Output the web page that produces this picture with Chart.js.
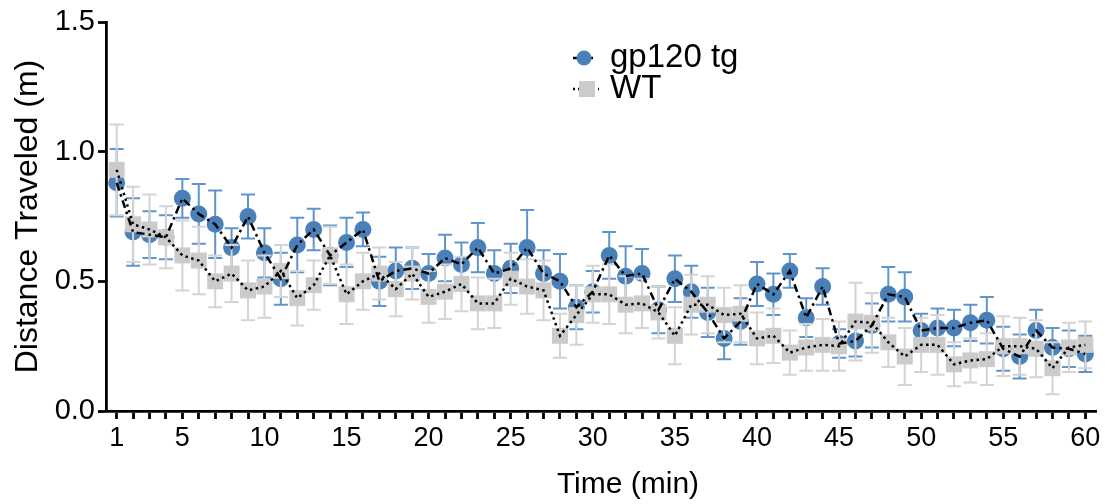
<!DOCTYPE html>
<html>
<head>
<meta charset="utf-8">
<script src="https://cdn.jsdelivr.net/npm/chart.js@4.4.1/dist/chart.umd.min.js"></script>
<style>
  body { margin: 0; background: #fff; }
  #wrap { width: 1113px; height: 504px; position: relative; }
</style>
</head>
<body>
<div id="wrap"><canvas id="chartData"></canvas></div>
<script>
    // minutes 1..60
    const minutes = [];
    for (let m = 1; m <= 60; m++) minutes.push(m);
    const labelledMinutes = [1, 5, 10, 15, 20, 25, 30, 35, 40, 45, 50, 55, 60];
    const yTicks = [0, 0.5, 1.0, 1.5];

    const seriesNames = ["gp120 tg", "WT"];

    // mean distance per minute (m)
    const gp120Mean = [
        0.88, 0.69, 0.68, 0.67, 0.82, 0.76, 0.72, 0.63, 0.75, 0.61,
        0.51, 0.64, 0.70, 0.60, 0.65, 0.70, 0.50, 0.54, 0.55, 0.53,
        0.59, 0.565, 0.63, 0.53, 0.55, 0.63, 0.53, 0.50, 0.40, 0.46,
        0.60, 0.52, 0.53, 0.39, 0.51, 0.46, 0.38, 0.28, 0.345, 0.49,
        0.45, 0.54, 0.36, 0.48, 0.26, 0.27, 0.33, 0.45, 0.44, 0.31,
        0.32, 0.32, 0.34, 0.35, 0.24, 0.21, 0.31, 0.245, 0.24, 0.22
    ];
    const gp120Err = [
        0.13, 0.13, 0.09, 0.085, 0.075, 0.115, 0.13, 0.075, 0.085, 0.095,
        0.10, 0.105, 0.08, 0.115, 0.095, 0.065, 0.095, 0.09, 0.08, 0.075,
        0.09, 0.085, 0.095, 0.09, 0.095, 0.145, 0.09, 0.105, 0.085, 0.08,
        0.09, 0.115, 0.095, 0.09, 0.09, 0.10, 0.095, 0.08, 0.09, 0.085,
        0.08, 0.065, 0.075, 0.07, 0.055, 0.06, 0.085, 0.105, 0.095, 0.065,
        0.075, 0.07, 0.07, 0.09, 0.085, 0.085, 0.08, 0.075, 0.07, 0.07
    ];
    const wtMean = [
        0.93, 0.72, 0.70, 0.67, 0.60, 0.58, 0.50, 0.53, 0.465, 0.48,
        0.54, 0.435, 0.485, 0.60, 0.45, 0.50, 0.53, 0.47, 0.53, 0.44,
        0.46, 0.49, 0.415, 0.415, 0.51, 0.48, 0.465, 0.29, 0.37, 0.45,
        0.45, 0.41, 0.415, 0.38, 0.29, 0.41, 0.41, 0.37, 0.375, 0.28,
        0.29, 0.225, 0.245, 0.255, 0.25, 0.345, 0.34, 0.265, 0.21, 0.255,
        0.255, 0.18, 0.195, 0.20, 0.25, 0.25, 0.24, 0.165, 0.245, 0.255
    ];
    const wtErr = [
        0.175, 0.145, 0.135, 0.12, 0.135, 0.13, 0.10, 0.11, 0.115, 0.12,
        0.10, 0.105, 0.095, 0.11, 0.115, 0.11, 0.10, 0.105, 0.10, 0.10,
        0.105, 0.105, 0.10, 0.095, 0.10, 0.105, 0.115, 0.085, 0.115, 0.11,
        0.115, 0.11, 0.095, 0.10, 0.11, 0.115, 0.11, 0.105, 0.11, 0.10,
        0.105, 0.085, 0.09, 0.10, 0.095, 0.15, 0.115, 0.095, 0.11, 0.105,
        0.115, 0.085, 0.085, 0.10, 0.115, 0.11, 0.11, 0.10, 0.095, 0.09
    ];

    const BLUE = "#4a80b8";
    const BLUE_ERR = "#5f95ca";
    const GREY = "#cbcbcb";
    const GREY_ERR = "#d4d4d4";
    const FONT = "'Liberation Sans', Arial, Helvetica, sans-serif";

    Chart.defaults.font.family = FONT;
    Chart.defaults.color = "#000";

    const toPoints = (vals) => minutes.map((m, i) => ({ x: m, y: vals[i] }));

    // error bars drawn right before the marker dataset they belong to
    const errorBars = {
        id: "errorBars",
        beforeDatasetDraw(chart, args) {
            const ds = chart.data.datasets[args.index];
            if (!ds.errors) return;
            const { ctx, scales: { x, y } } = chart;
            ctx.save();
            ctx.strokeStyle = ds.errorColor;
            ctx.lineWidth = 2;
            ds.data.forEach((p, i) => {
                const px = x.getPixelForValue(p.x);
                const top = y.getPixelForValue(p.y + ds.errors[i]);
                const bot = y.getPixelForValue(p.y - ds.errors[i]);
                ctx.beginPath();
                ctx.moveTo(px, top); ctx.lineTo(px, bot);
                ctx.moveTo(px - 7, top); ctx.lineTo(px + 7, top);
                ctx.moveTo(px - 7, bot); ctx.lineTo(px + 7, bot);
                ctx.stroke();
            });
            ctx.restore();
        }
    };

    // legend with the line style running through the marker, plus x title
    const extras = {
        id: "extras",
        afterDraw(chart) {
            const ctx = chart.ctx;
            ctx.save();
            ctx.strokeStyle = "#000";
            ctx.lineWidth = 2.5;

            // gp120 tg
            ctx.setLineDash([6, 3, 2, 3]);
            ctx.beginPath(); ctx.moveTo(573, 58); ctx.lineTo(595, 58); ctx.stroke();
            ctx.setLineDash([]);
            ctx.fillStyle = BLUE;
            ctx.beginPath(); ctx.arc(584, 58, 7.5, 0, Math.PI * 2); ctx.fill();

            // WT
            ctx.setLineDash([2, 3]);
            ctx.beginPath(); ctx.moveTo(573, 89); ctx.lineTo(599, 89); ctx.stroke();
            ctx.setLineDash([]);
            ctx.fillStyle = GREY;
            ctx.fillRect(579, 81, 16, 16);

            ctx.fillStyle = "#000";
            ctx.font = "33px " + FONT;
            ctx.textBaseline = "alphabetic";
            ctx.textAlign = "left";
            ctx.fillText(seriesNames[0], 610, 67);
            ctx.fillText(seriesNames[1], 610, 98);

            ctx.font = "30px " + FONT;
            ctx.textAlign = "center";
            ctx.textBaseline = "middle";
            ctx.fillText("Time (min)", 628, 485);
            ctx.restore();
        }
    };

    const ctx = document.getElementById("chartData");

    new Chart(ctx, {
        type: "scatter",
        data: {
            datasets: [{
                    label: seriesNames[0],
                    data: toPoints(gp120Mean),
                    errors: gp120Err,
                    errorColor: BLUE_ERR,
                    showLine: false,
                    pointStyle: "circle",
                    pointRadius: 8.5,
                    pointBackgroundColor: BLUE,
                    pointBorderWidth: 0,
                    order: 4,
                },
                {
                    label: seriesNames[1],
                    data: toPoints(wtMean),
                    errors: wtErr,
                    errorColor: GREY_ERR,
                    showLine: false,
                    pointStyle: "rect",
                    pointRadius: 11.3,
                    pointBackgroundColor: GREY,
                    pointBorderWidth: 0,
                    order: 3,
                },
                {
                    label: seriesNames[0] + " line",
                    data: toPoints(gp120Mean),
                    showLine: true,
                    pointRadius: 0,
                    borderColor: "#000",
                    borderWidth: 2.5,
                    borderDash: [8, 4, 2.5, 4],
                    order: 2,
                },
                {
                    label: seriesNames[1] + " line",
                    data: toPoints(wtMean),
                    showLine: true,
                    pointRadius: 0,
                    borderColor: "#000",
                    borderWidth: 2.5,
                    borderDash: [2.5, 3.5],
                    order: 1,
                },
            ],
        },
        options: {
            responsive: true,
            maintainAspectRatio: false,
            animation: false,
            events: [],
            layout: {
                padding: { top: 22, right: 17, left: 0, bottom: 0 }
            },
            plugins: {
                legend: { display: false },
                tooltip: { enabled: false },
            },
            scales: {
                x: {
                    type: "linear",
                    min: 0.35,
                    max: 60.65,
                    afterBuildTicks: (scale) => {
                        scale.ticks = minutes.map(v => ({ value: v }));
                    },
                    afterFit: (scale) => { scale.height = 93; },
                    ticks: {
                        autoSkip: false,
                        maxRotation: 0,
                        padding: 3,
                        font: { size: 27 },
                        color: "#000",
                        callback: (v) => labelledMinutes.includes(v) ? String(v) : "",
                    },
                    grid: {
                        display: true,
                        drawOnChartArea: false,
                        drawTicks: true,
                        tickLength: 8,
                        tickWidth: 2.8,
                        tickColor: "#000",
                    },
                    border: { display: true, color: "#000", width: 2.8 },
                },
                y: {
                    min: 0,
                    max: 1.5,
                    afterBuildTicks: (scale) => {
                        scale.ticks = yTicks.map(v => ({ value: v }));
                    },
                    afterFit: (scale) => { scale.width = 106; },
                    ticks: {
                        padding: 3,
                        font: { size: 29 },
                        color: "#000",
                        callback: (v) => v.toFixed(1),
                    },
                    grid: {
                        display: true,
                        drawOnChartArea: false,
                        drawTicks: true,
                        tickLength: 8,
                        tickWidth: 2.8,
                        tickColor: "#000",
                    },
                    border: { display: true, color: "#000", width: 2.8 },
                    title: {
                        display: true,
                        text: "Distance Traveled (m)",
                        font: { size: 32 },
                        color: "#000",
                        padding: { top: 9, bottom: 0 },
                    },
                },
            },
        },
        plugins: [errorBars, extras],
    });
</script>
</body>
</html>
